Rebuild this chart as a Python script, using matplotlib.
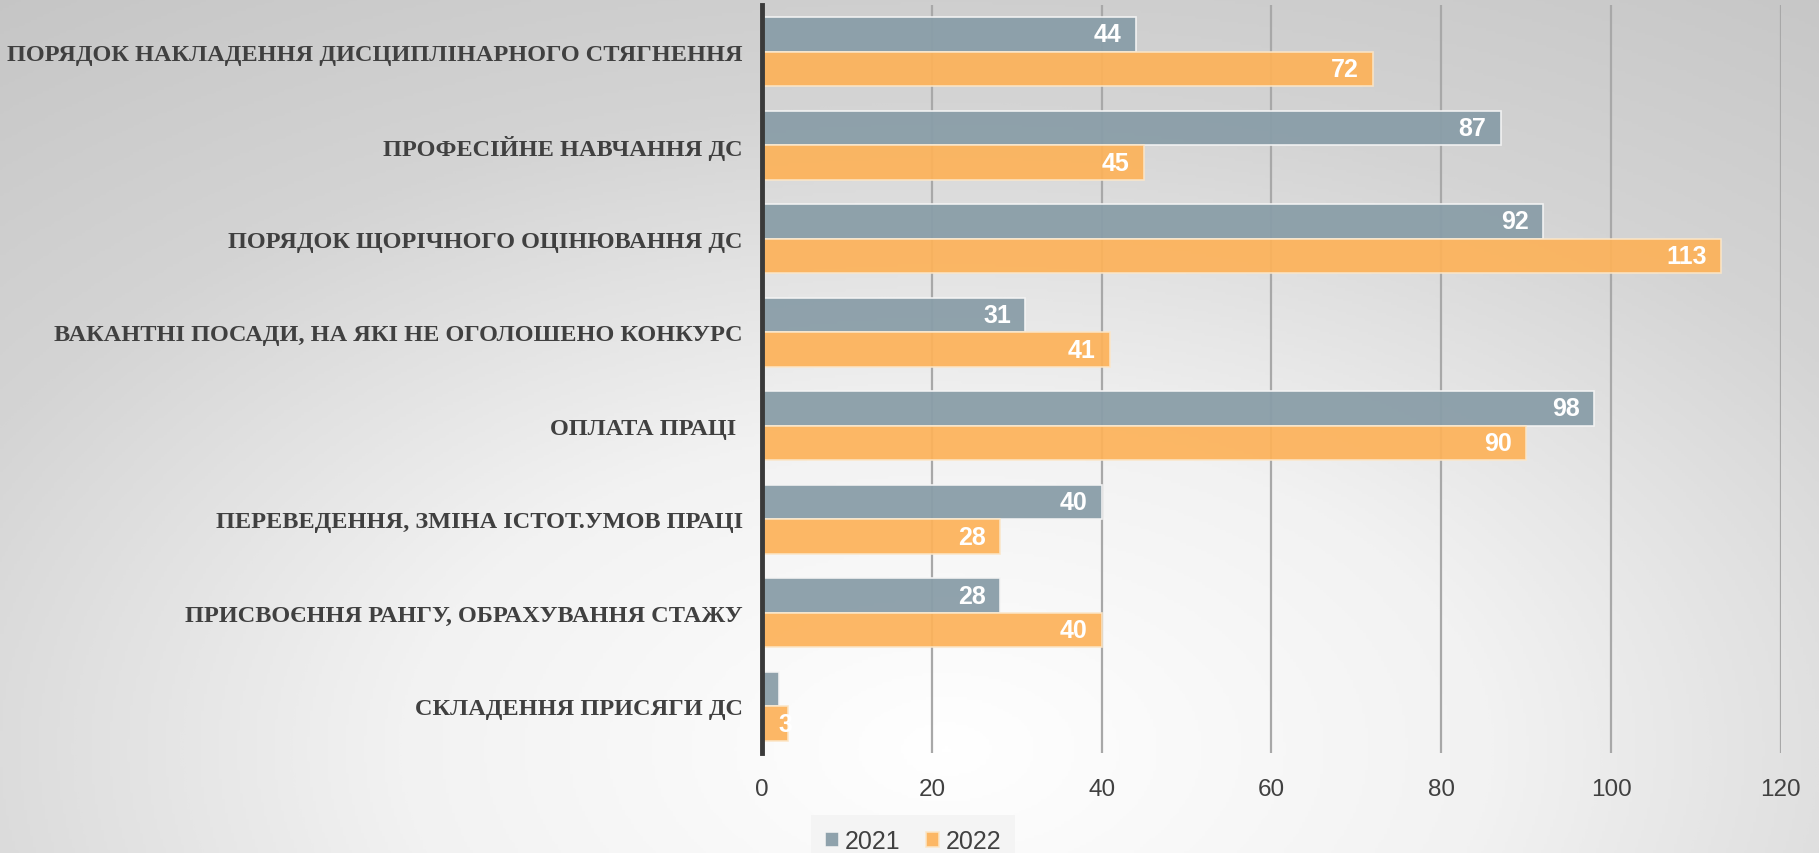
import numpy as np
import matplotlib
matplotlib.use("Agg")
import matplotlib.pyplot as plt
from matplotlib.colors import LinearSegmentedColormap

# categories top -> bottom
categories = [
    "ПОРЯДОК НАКЛАДЕННЯ ДИСЦИПЛІНАРНОГО СТЯГНЕННЯ",
    "ПРОФЕСІЙНЕ НАВЧАННЯ ДС",
    "ПОРЯДОК ЩОРІЧНОГО ОЦІНЮВАННЯ ДС",
    "ВАКАНТНІ ПОСАДИ, НА ЯКІ НЕ ОГОЛОШЕНО КОНКУРС",
    "ОПЛАТА ПРАЦІ ",
    "ПЕРЕВЕДЕННЯ, ЗМІНА ІСТОТ.УМОВ ПРАЦІ",
    "ПРИСВОЄННЯ РАНГУ, ОБРАХУВАННЯ СТАЖУ",
    "СКЛАДЕННЯ ПРИСЯГИ ДС",
]
values_2021 = [44, 87, 92, 31, 98, 40, 28, 2]
values_2022 = [72, 45, 113, 41, 90, 28, 40, 3]
series_names = ["2021", "2022"]
xticks = [0, 20, 40, 60, 80, 100, 120]

col_2021 = "#8A9EA8"
col_2022 = "#FDB259"
txt_col = "#404040"

fig = plt.figure(figsize=(18.19, 8.54), dpi=100)

# radial gray background
bg = fig.add_axes([0, 0, 1, 1], zorder=-10)
yy, xx = np.mgrid[0:1:300j, 0:1:600j]
r = np.sqrt(((xx - 0.52) / 0.75) ** 2 + ((yy - 0.88) / 0.95) ** 2)
cmap = LinearSegmentedColormap.from_list("bg", ["#ffffff", "#f2f2f2", "#d4d4d4", "#c4c4c4"])
bg.imshow(np.clip(r, 0, 1.2), cmap=cmap, aspect="auto", extent=[0, 1, 0, 1], origin="upper", vmin=0, vmax=1.2)
bg.axis("off")

ax = fig.add_axes([0.419, 0.117, 0.560, 0.876])
ax.set_facecolor("none")

y = np.arange(len(categories))
h = 0.37
b1 = ax.barh(y - h / 2, values_2021, height=h, color=col_2021, alpha=0.95,
             edgecolor="#f4f4f4", linewidth=1.2, label=series_names[0], zorder=3)
b2 = ax.barh(y + h / 2, values_2022, height=h, color=col_2022, alpha=0.92,
             edgecolor="#fbe6c8", linewidth=1.2, label=series_names[1], zorder=3)

for bars, vals in [(b1, values_2021), (b2, values_2022)]:
    for rect, v in zip(bars, vals):
        yc = rect.get_y() + rect.get_height() / 2
        if v < 2.5:
            # label would be completely hidden
            continue
        if v < 5:
            # too short - label gets cut by the bar
            t = ax.text(1.9, yc, str(v), ha="left", va="center", color="white", fontsize=18,
                        fontweight="bold", family="Liberation Sans", zorder=4)
            t.set_clip_path(rect)
        else:
            ax.text(v - 1.7, yc, str(v), ha="right", va="center", color="white", fontsize=18,
                    fontweight="bold", family="Liberation Sans", zorder=4)

ax.set_xlim(0, 120)
ax.set_ylim(len(categories) - 0.5, -0.5)
ax.set_xticks(xticks)
ax.set_xticklabels([str(t) for t in xticks], fontsize=17.5, color=txt_col, family="Liberation Sans")
ax.set_yticks(y)
ax.set_yticklabels(categories, fontsize=17.5, fontweight="bold", color=txt_col, family="Liberation Serif")
ax.tick_params(axis="x", length=0, pad=18)
ax.tick_params(axis="y", length=0, pad=14)
ax.grid(axis="x", color="#a8a8a8", linewidth=1.6, zorder=1)
ax.set_axisbelow(True)
for s in ["top", "right", "bottom"]:
    ax.spines[s].set_visible(False)
ax.spines["left"].set_color("#3a3a3a")
ax.spines["left"].set_linewidth(3.5)
ax.spines["left"].set_zorder(5)

leg = fig.legend(handles=[b1, b2], labels=series_names, loc="center", bbox_to_anchor=(0.502, 0.014),
                 ncol=2, frameon=True, fontsize=18, handlelength=0.55, handleheight=0.55,
                 handletextpad=0.25, columnspacing=1.0, borderpad=0.25)
leg.get_frame().set_facecolor("#f3f3f3")
leg.get_frame().set_edgecolor("none")
leg.get_frame().set_boxstyle("square")
for t in leg.get_texts():
    t.set_color(txt_col)
    t.set_family("Liberation Sans")

fig.savefig("out.png", dpi=100)
